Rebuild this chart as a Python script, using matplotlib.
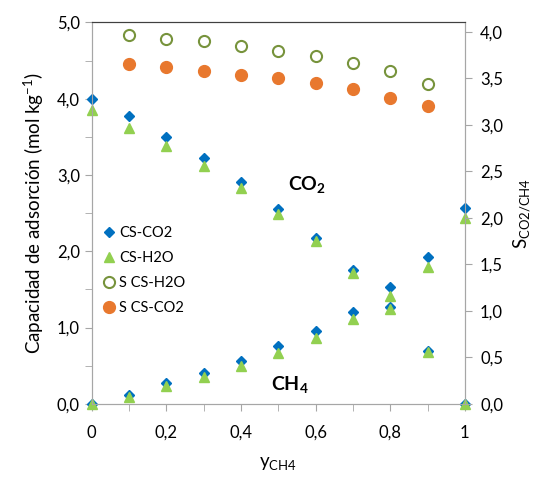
import matplotlib.pyplot as plt
from matplotlib.ticker import MultipleLocator, FuncFormatter

plt.rcParams['font.family'] = ['Lato', 'DejaVu Sans']
plt.rcParams['mathtext.fontset'] = 'custom'
plt.rcParams['mathtext.rm'] = 'Lato'
plt.rcParams['mathtext.bf'] = 'Lato:bold'
plt.rcParams['mathtext.it'] = 'Lato:italic'
plt.rcParams['mathtext.default'] = 'regular'

# fraccion molar de CH4
y_ch4 = [0, 0.1, 0.2, 0.3, 0.4, 0.5, 0.6, 0.7, 0.8, 0.9, 1.0]
y_sel = [0.1, 0.2, 0.3, 0.4, 0.5, 0.6, 0.7, 0.8, 0.9]

# capacidad de adsorcion (mol/kg)
cs_co2_co2 = [4.00, 3.77, 3.50, 3.22, 2.91, 2.56, 2.18, 1.76, 1.27, 0.69, 0.0]
cs_co2_ch4 = [0.0, 0.12, 0.27, 0.40, 0.56, 0.76, 0.95, 1.21, 1.53, 1.93, 2.57]
cs_h2o_co2 = [3.85, 3.62, 3.38, 3.12, 2.83, 2.49, 2.13, 1.72, 1.25, 0.68, 0.0]
cs_h2o_ch4 = [0.0, 0.09, 0.23, 0.35, 0.50, 0.67, 0.87, 1.11, 1.41, 1.80, 2.44]

# selectividad CO2/CH4
s_cs_h2o = [3.97, 3.92, 3.90, 3.85, 3.79, 3.74, 3.66, 3.58, 3.44]
s_cs_co2 = [3.65, 3.62, 3.58, 3.53, 3.50, 3.45, 3.38, 3.29, 3.20]

blue = "#0070C0"
green = "#92D050"
olive = "#77933C"
orange = "#E8782E"
gray = "#A6A6A6"

fig = plt.figure(figsize=(5.43, 4.78), dpi=100)
ax = fig.add_axes([0.169, 0.155, 0.687, 0.798])
ax2 = ax.twinx()

h1, = ax.plot(y_ch4, cs_co2_co2, "D", color=blue, ms=5.5, label="CS-CO2", zorder=3, clip_on=False)
ax.plot(y_ch4, cs_co2_ch4, "D", color=blue, ms=5.5, zorder=3, clip_on=False)
h2, = ax.plot(y_ch4, cs_h2o_co2, "^", color=green, ms=7, label="CS-H2O", zorder=4, clip_on=False)
ax.plot(y_ch4, cs_h2o_ch4, "^", color=green, ms=7, zorder=4, clip_on=False)

h3, = ax2.plot(y_sel, s_cs_h2o, "o", mfc="white", mec=olive, mew=1.5, ms=8, label="S CS-H2O")
h4, = ax2.plot(y_sel, s_cs_co2, "o", color=orange, ms=8.5, label="S CS-CO2")

comma = FuncFormatter(lambda v, p: f"{v:.1f}".replace(".", ","))
xfmt = FuncFormatter(lambda v, p: ("%g" % round(v, 1)).replace(".", ","))

ax.set_xlim(0, 1)
ax.set_ylim(0, 5)
ax2.set_ylim(0, 4.1)
ax.xaxis.set_major_locator(MultipleLocator(0.2))
ax.xaxis.set_minor_locator(MultipleLocator(0.1))
ax.xaxis.set_major_formatter(xfmt)
ax.yaxis.set_major_locator(MultipleLocator(1))
ax.yaxis.set_minor_locator(MultipleLocator(0.5))
ax.yaxis.set_major_formatter(comma)
ax2.yaxis.set_major_locator(MultipleLocator(0.5))
ax2.yaxis.set_major_formatter(comma)

for a in (ax, ax2):
    a.tick_params(which="both", direction="out", length=5, color=gray, labelsize=12)
    for s in ("left", "right", "bottom"):
        a.spines[s].set_color(gray)
    a.spines["top"].set_color("#404040")
ax.tick_params(axis="x", pad=10)
ax2.tick_params(axis="y", pad=6)

ax.set_ylabel("Capacidad de adsorción (mol kg$^{-1}$)", fontsize=13.5, labelpad=8)
ax.set_xlabel("y$_{CH4}$", fontsize=13.5, labelpad=10)
ax2.set_ylabel("S$_{CO2/CH4}$", fontsize=13.5, labelpad=6)

ax.text(0.576, 2.87, r"$\mathbf{CO_2}$", fontsize=14, ha="center", va="center")
ax.text(0.53, 0.25, r"$\mathbf{CH_4}$", fontsize=14, ha="center", va="center")

ax2.legend([h1, h2, h3, h4], ["CS-CO2", "CS-H2O", "S CS-H2O", "S CS-CO2"],
           loc="center left", bbox_to_anchor=(0.0, 0.35), frameon=False,
           fontsize=10.5, handletextpad=0.1, handlelength=1.2, labelspacing=0.75,
           borderaxespad=0.2)

fig.savefig("out.png", dpi=100)
